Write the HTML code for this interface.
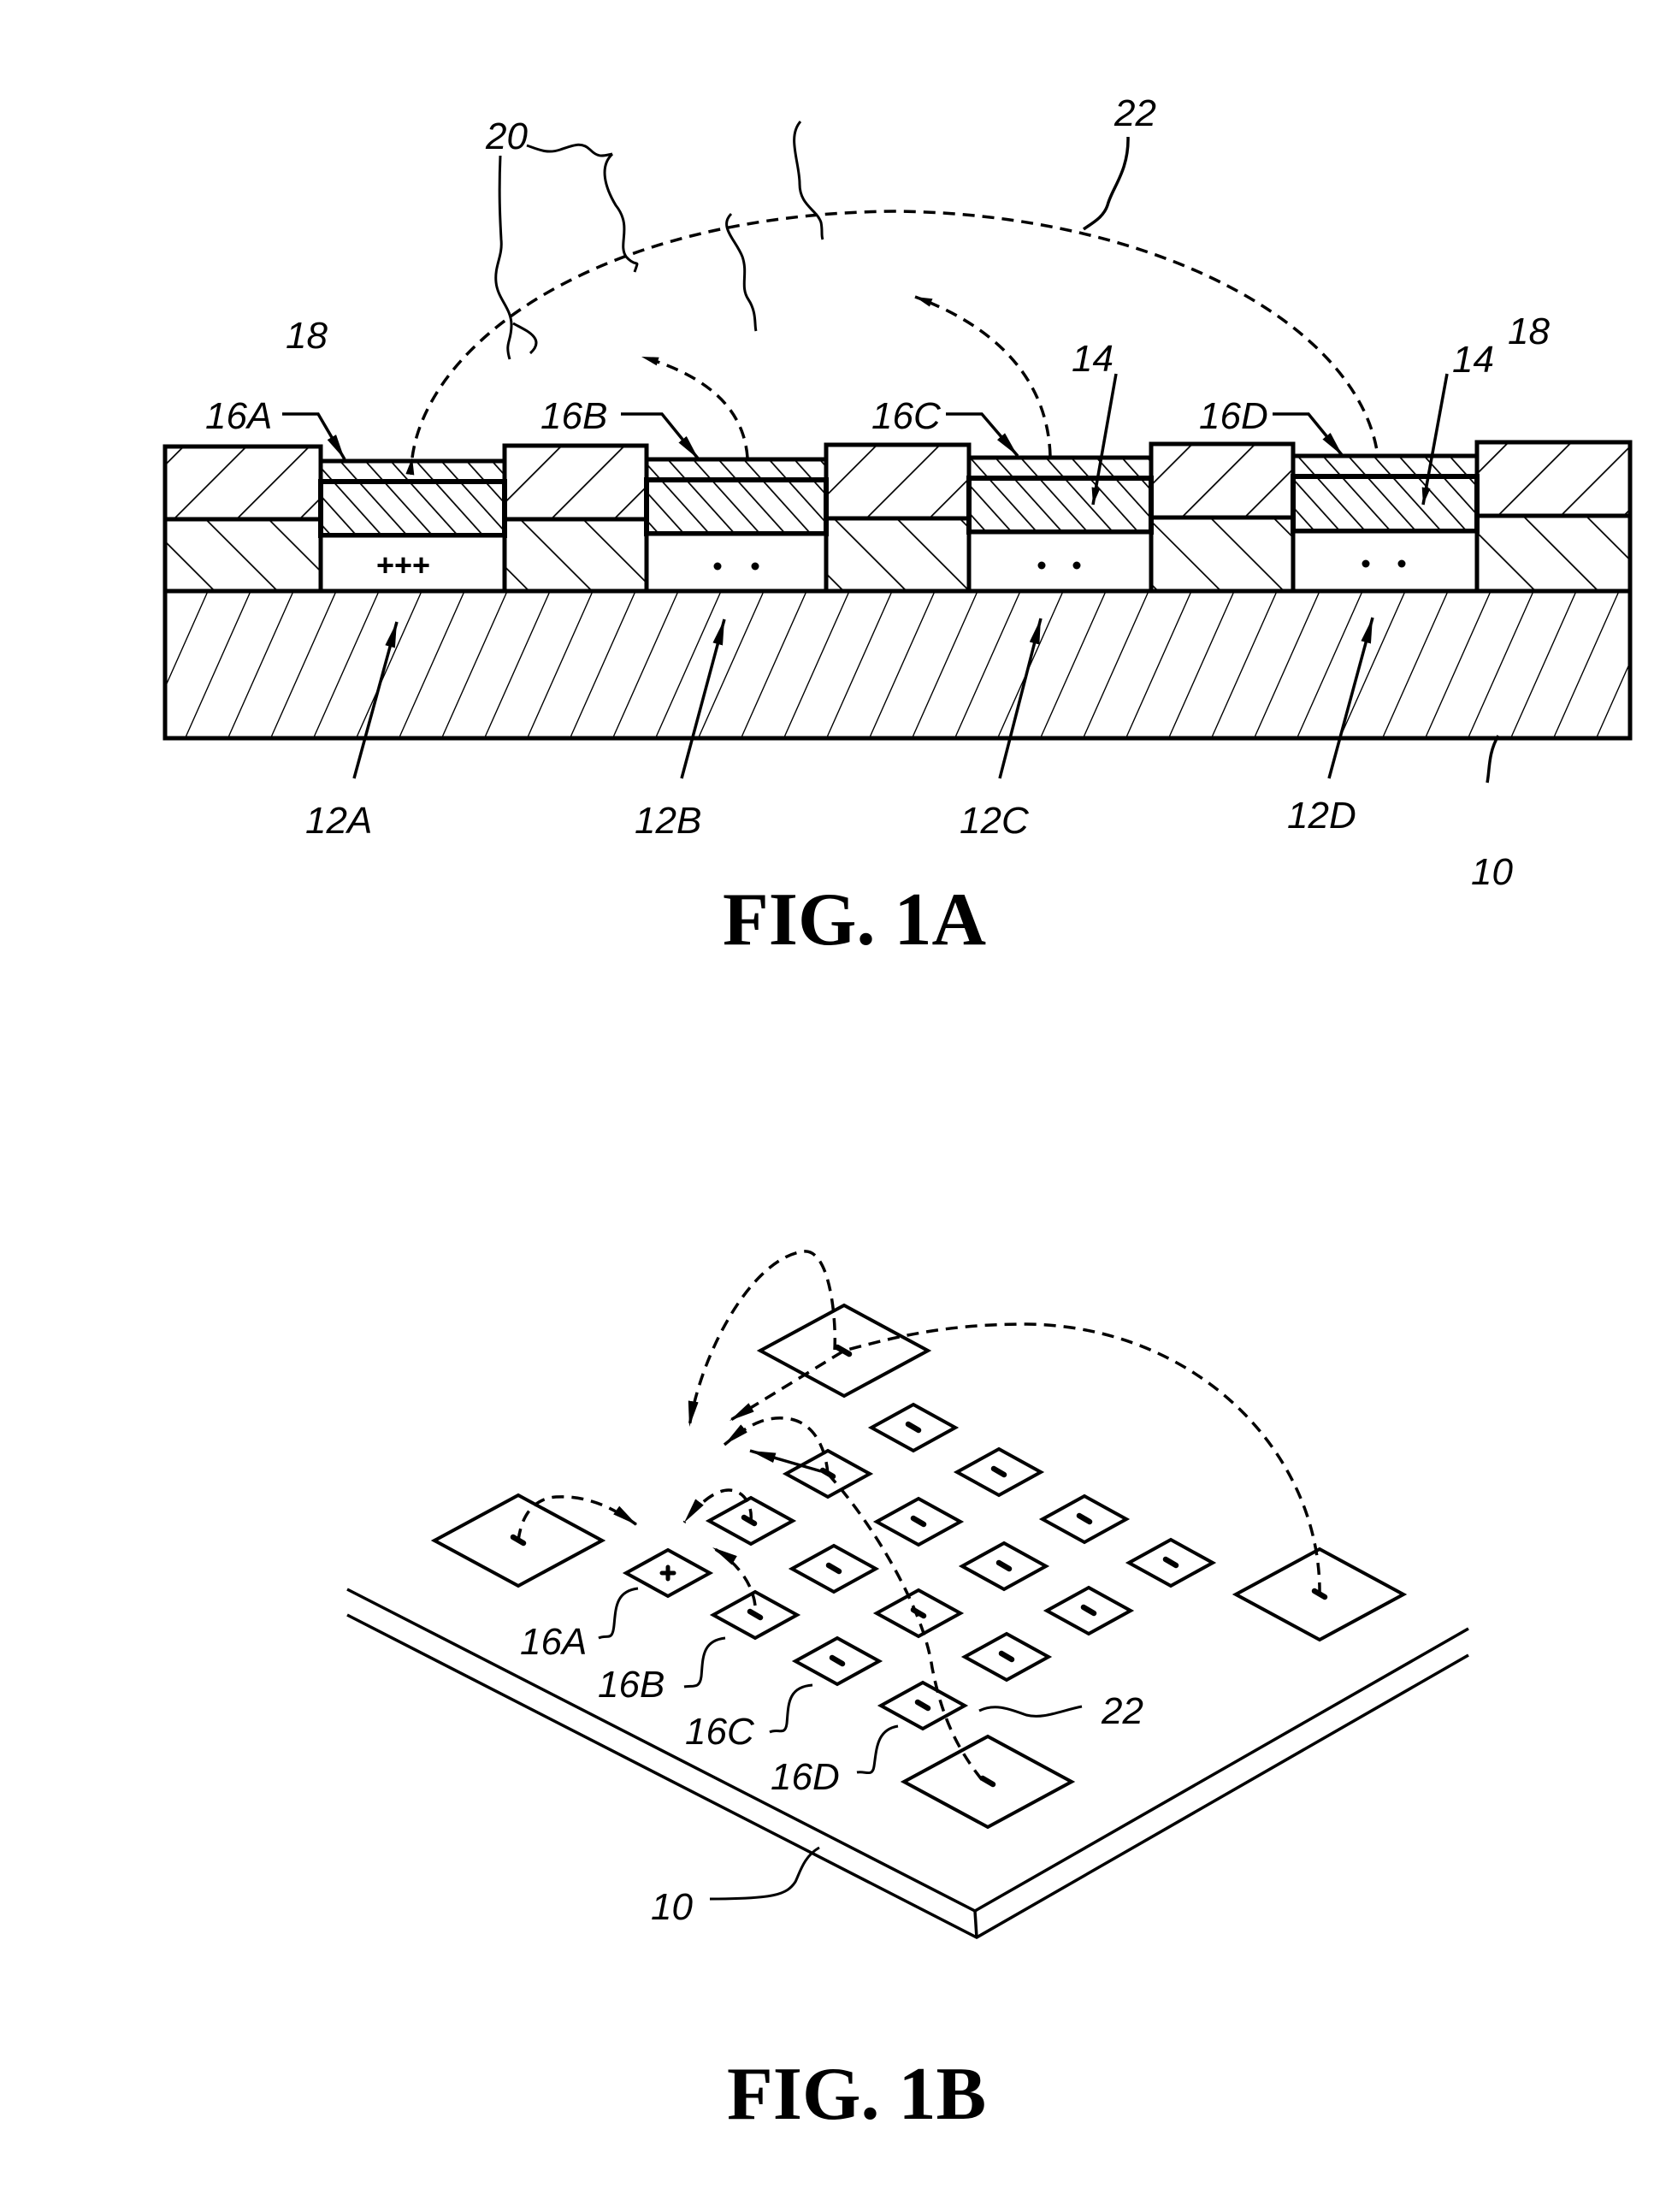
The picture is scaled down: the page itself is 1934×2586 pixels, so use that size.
<!DOCTYPE html>
<html><head><meta charset="utf-8"><style>html,body{margin:0;padding:0;background:#fff}svg{display:block}text{font-family:"Liberation Sans",sans-serif;font-style:italic;fill:#000}.fig{font-family:"Liberation Serif",serif;font-style:normal}</style></head>
<body>
<svg width="1934" height="2586" viewBox="0 0 1934 2586" xmlns="http://www.w3.org/2000/svg">
<defs>
<pattern id="sub" patternUnits="userSpaceOnUse" width="50" height="2000" patternTransform="skewX(-24)"><line x1="0" y1="0" x2="0" y2="2000" stroke="#000" stroke-width="3"/></pattern>
<pattern id="fw" patternUnits="userSpaceOnUse" width="52" height="52" patternTransform="rotate(45)"><line x1="0" y1="0" x2="0" y2="52" stroke="#000" stroke-width="3.5"/></pattern>
<pattern id="bk" patternUnits="userSpaceOnUse" width="52" height="52" patternTransform="rotate(-45)"><line x1="0" y1="0" x2="0" y2="52" stroke="#000" stroke-width="3.5"/></pattern>
<pattern id="dn" patternUnits="userSpaceOnUse" width="22" height="22" patternTransform="rotate(-42)"><line x1="0" y1="0" x2="0" y2="22" stroke="#000" stroke-width="3.5"/></pattern>
<marker id="ah" viewBox="0 0 20 10" refX="20" refY="5" markerWidth="20" markerHeight="10" markerUnits="userSpaceOnUse" orient="auto"><path d="M0,0 L20,5 L0,10 Z" fill="#000"/></marker>
<marker id="ah2" viewBox="0 0 30 12" refX="30" refY="6" markerWidth="30" markerHeight="12" markerUnits="userSpaceOnUse" orient="auto"><path d="M0,0 L30,6 L0,12 Z" fill="#000"/></marker>
</defs>

<g stroke="#000" stroke-width="5">
<rect x="193" y="691" width="1713" height="172" fill="url(#sub)"/>
<g>
<rect x="193" y="522" width="182" height="85" fill="url(#fw)"/><rect x="193" y="607" width="182" height="84" fill="url(#bk)"/>
<rect x="590" y="521" width="166" height="86" fill="url(#fw)"/><rect x="590" y="607" width="166" height="84" fill="url(#bk)"/>
<rect x="966" y="520" width="167" height="86" fill="url(#fw)"/><rect x="966" y="606" width="167" height="85" fill="url(#bk)"/>
<rect x="1346" y="519" width="166" height="86" fill="url(#fw)"/><rect x="1346" y="605" width="166" height="86" fill="url(#bk)"/>
<rect x="1727" y="517" width="179" height="86" fill="url(#fw)"/><rect x="1727" y="603" width="179" height="88" fill="url(#bk)"/>
</g>
<g>
<rect x="375" y="539" width="215" height="24" fill="url(#dn)"/><rect x="375" y="563" width="215" height="63" fill="url(#dn)" stroke-width="6"/><rect x="375" y="626" width="215" height="65" fill="#fff"/>
<rect x="756" y="537" width="210" height="24" fill="url(#dn)"/><rect x="756" y="561" width="210" height="63" fill="url(#dn)" stroke-width="6"/><rect x="756" y="624" width="210" height="67" fill="#fff"/>
<rect x="1133" y="535" width="213" height="24" fill="url(#dn)"/><rect x="1133" y="559" width="213" height="63" fill="url(#dn)" stroke-width="6"/><rect x="1133" y="622" width="213" height="69" fill="#fff"/>
<rect x="1512" y="533" width="215" height="24" fill="url(#dn)"/><rect x="1512" y="557" width="215" height="64" fill="url(#dn)" stroke-width="6"/><rect x="1512" y="621" width="215" height="70" fill="#fff"/>
</g>
</g>
<text x="440" y="673" style="font-style:normal;font-weight:bold;font-size:36px">+++</text>
<g fill="#000"><circle cx="839" cy="662" r="4.5"/><circle cx="883" cy="662" r="4.5"/><circle cx="1218" cy="661" r="4.5"/><circle cx="1259" cy="661" r="4.5"/><circle cx="1597" cy="659" r="4.5"/><circle cx="1639" cy="659" r="4.5"/></g>

<g fill="none" stroke="#000" stroke-width="3.5" stroke-dasharray="14,9">
<path d="M482,535 C500,400 700,250 1046,247 C1350,250 1590,380 1611,533" marker-start="url(#ah)"/>
<path d="M874,535 C870,480 830,440 750,417" marker-end="url(#ah)"/>
<path d="M1228,533 C1225,440 1160,380 1070,347" marker-end="url(#ah)"/>
</g>
<g fill="none" stroke="#000" stroke-width="3">
<path d="M585,182 C583,230 585,260 586,280 C588,300 578,310 580,330 C582,350 598,360 598,380 C598,400 590,400 596,420"/>
<path d="M600,378 C612,385 640,395 620,413"/>
<path d="M716,180 C700,195 708,220 720,240 C740,265 722,285 732,300 C745,315 748,300 742,318"/>
<path d="M936,142 C920,160 935,190 935,215 C935,240 955,245 960,260 C962,270 960,275 962,280"/>
<path d="M855,250 C840,265 860,280 868,300 C875,320 865,335 875,350 C885,365 882,380 884,387"/>
<path d="M616,170 C630,175 640,180 655,175 C670,170 680,165 690,175 C700,185 705,182 716,180"/>
</g>
<g fill="none" stroke="#000" stroke-width="3.5">
<path d="M1319,160 C1320,200 1300,220 1295,240 C1290,255 1275,262 1267,268"/>
<path d="M330,484 L372,484 L403,537" marker-end="url(#ah2)"/>
<path d="M726,484 L774,484 L817,537" marker-end="url(#ah2)"/>
<path d="M1106,484 L1148,484 L1190,533" marker-end="url(#ah2)"/>
<path d="M1488,484 L1530,484 L1570,533" marker-end="url(#ah2)"/>
<path d="M1305,437 L1278,590" marker-end="url(#ah)"/>
<path d="M1692,437 L1664,590" marker-end="url(#ah)"/>
<path d="M414,910 L464,727" marker-end="url(#ah2)"/>
<path d="M797,910 L847,724" marker-end="url(#ah2)"/>
<path d="M1169,910 L1217,723" marker-end="url(#ah2)"/>
<path d="M1554,910 L1605,722" marker-end="url(#ah2)"/>
<path d="M1752,860 C1740,880 1742,900 1739,915"/>
</g>
<g font-size="44">
<text x="568" y="174">20</text><text x="1303" y="147">22</text>
<text x="334" y="407">18</text><text x="1763" y="402">18</text>
<text x="1253" y="434">14</text><text x="1698" y="435">14</text>
<text x="240" y="501">16A</text><text x="632" y="501">16B</text><text x="1019" y="501">16C</text><text x="1402" y="501">16D</text>
<text x="357" y="974">12A</text><text x="742" y="974">12B</text><text x="1122" y="974">12C</text><text x="1505" y="968">12D</text>
<text x="1720" y="1034">10</text>
</g>
<text class="fig" x="845" y="1104" font-size="88" style="font-weight:bold">FIG.  1A</text>

<g fill="none" stroke="#000" stroke-width="3.5">
<path d="M406,1858 L1140,2234 L1717,1904"/>
<path d="M406,1888 L1142,2265 L1717,1935"/>
<path d="M1140,2234 L1142,2265"/>
</g>
<g fill="#fff" stroke="#000" stroke-width="4">
<path d="M987,1526 L1085,1579 L987,1632 L889,1579 Z"/>
<path d="M606,1748 L704,1801 L606,1854 L508,1801 Z"/>
<path d="M1543,1811 L1641,1864 L1543,1917 L1445,1864 Z"/>
<path d="M1155,2030 L1253,2083 L1155,2136 L1057,2083 Z"/>
</g>
<g fill="#fff" stroke="#000" stroke-width="4">
<path d="M781,1812 l49,27 l-49,27 l-49,-27 Z"/>
<path d="M878,1751 l49,27 l-49,27 l-49,-27 Z"/>
<path d="M883,1861 l49,27 l-49,27 l-49,-27 Z"/>
<path d="M1068,1642 l49,27 l-49,27 l-49,-27 Z"/>
<path d="M1168,1694 l49,27 l-49,27 l-49,-27 Z"/>
<path d="M968,1696 l49,27 l-49,27 l-49,-27 Z"/>
<path d="M1074,1752 l49,27 l-49,27 l-49,-27 Z"/>
<path d="M1268,1749 l49,27 l-49,27 l-49,-27 Z"/>
<path d="M975,1807 l49,27 l-49,27 l-49,-27 Z"/>
<path d="M1174,1804 l49,27 l-49,27 l-49,-27 Z"/>
<path d="M1369,1800 l49,27 l-49,27 l-49,-27 Z"/>
<path d="M1074,1859 l49,27 l-49,27 l-49,-27 Z"/>
<path d="M1273,1856 l49,27 l-49,27 l-49,-27 Z"/>
<path d="M979,1915 l49,27 l-49,27 l-49,-27 Z"/>
<path d="M1177,1910 l49,27 l-49,27 l-49,-27 Z"/>
<path d="M1079,1967 l49,27 l-49,27 l-49,-27 Z"/>
</g>
<g stroke="#000" stroke-width="6.5" stroke-linecap="round">
<path d="M870,1774 l12,7"/><path d="M877,1884 l12,7"/><path d="M1062,1665 l12,7"/><path d="M1162,1717 l12,7"/><path d="M962,1719 l12,7"/><path d="M1068,1775 l12,7"/><path d="M1262,1772 l12,7"/><path d="M969,1830 l12,7"/><path d="M1168,1827 l12,7"/><path d="M1363,1823 l12,7"/><path d="M1068,1882 l12,7"/><path d="M1267,1879 l12,7"/><path d="M973,1938 l12,7"/><path d="M1171,1933 l12,7"/><path d="M1073,1990 l12,7"/>
<path d="M600,1797 l12,7"/><path d="M1537,1860 l12,7"/><path d="M1149,2079 l12,7"/><path d="M979,1575 l14,8"/>
<path d="M774,1839 h14 M781,1832 v14" stroke-width="5"/>
</g>
<g fill="none" stroke="#000" stroke-width="3.5" stroke-dasharray="14,9">
<path d="M976,1578 C978,1540 970,1460 940,1463 C880,1470 820,1580 806,1668" marker-end="url(#ah2)"/>
<path d="M1543,1864 C1545,1700 1400,1550 1200,1548 C1100,1548 1040,1565 987,1579 L853,1661" marker-end="url(#ah2)"/>
<path d="M968,1723 C965,1690 950,1660 917,1658 C890,1656 870,1670 847,1689" marker-end="url(#ah2)"/>
<path d="M968,1723 C1020,1780 1080,1880 1090,1950 C1100,2000 1115,2040 1150,2083"/>
<path d="M878,1778 C880,1760 870,1742 852,1742 C835,1742 815,1760 800,1780" marker-end="url(#ah2)"/>
<path d="M606,1801 C610,1770 625,1752 650,1750 C690,1748 720,1765 745,1783" marker-end="url(#ah2)"/>
<path d="M883,1877 C880,1850 860,1825 833,1809" marker-end="url(#ah2)"/>
</g>
<path d="M960,1720 L877,1696" stroke="#000" stroke-width="3.5" marker-end="url(#ah2)" fill="none"/>
<g fill="none" stroke="#000" stroke-width="3">
<path d="M746,1857 C720,1860 720,1880 718,1900 C716,1920 710,1910 700,1915"/>
<path d="M848,1915 C820,1918 822,1940 820,1960 C818,1975 810,1970 800,1972"/>
<path d="M950,1970 C920,1972 922,1995 920,2015 C918,2030 910,2020 900,2025"/>
<path d="M1050,2018 C1025,2022 1025,2045 1022,2065 C1020,2078 1012,2070 1002,2072"/>
<path d="M1145,2000 C1165,1990 1185,2000 1200,2005 C1220,2010 1240,2000 1265,1995"/>
<path d="M958,2160 C940,2170 935,2190 930,2200 C920,2215 905,2220 830,2220"/>
</g>
<g font-size="44">
<text x="608" y="1934">16A</text><text x="699" y="1984">16B</text><text x="801" y="2039">16C</text><text x="901" y="2092">16D</text>
<text x="1288" y="2015">22</text><text x="761" y="2244">10</text>
</g>
<text class="fig" x="850" y="2477" font-size="88" style="font-weight:bold">FIG.  1B</text>
</svg>
</body></html>
